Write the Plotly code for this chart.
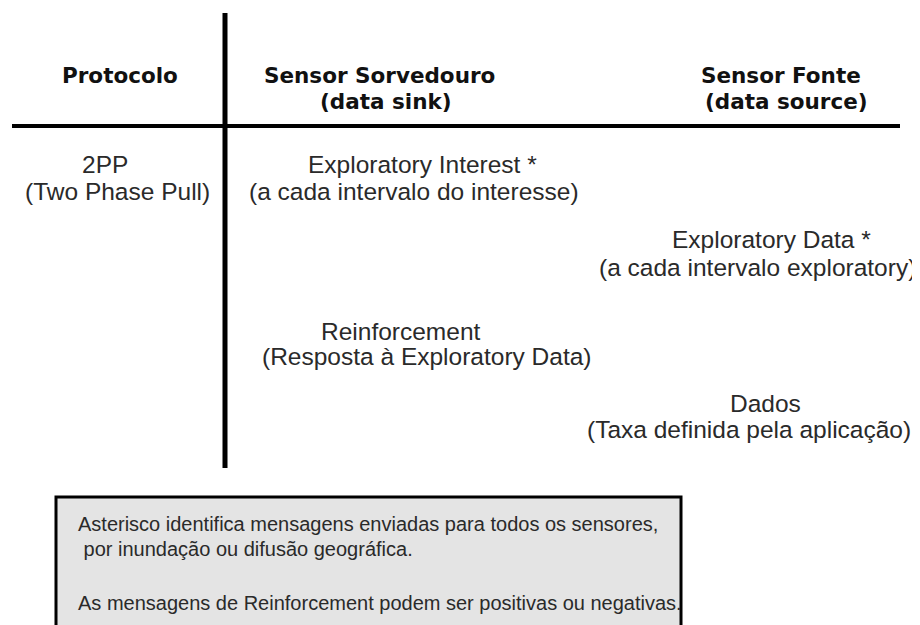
import plotly.graph_objects as go

# ---- content (text) ----
header_labels = ["Protocolo", "Sensor Sorvedouro", "(data sink)", "Sensor Fonte", "(data source)"]
message_labels = [
    "2PP", "(Two Phase Pull)",
    "Exploratory Interest *", "(a cada intervalo do interesse)",
    "Exploratory Data *", "(a cada intervalo exploratory)",
    "Reinforcement", "(Resposta à Exploratory Data)",
    "Dados", "(Taxa definida pela aplicação)",
]
note_lines = [
    "Asterisco identifica mensagens enviadas para todos os sensores,",
    " por inundação ou difusão geográfica.",
    "As mensagens de Reinforcement podem ser positivas ou negativas.",
]

# ---- layout positions (page pixels in a 920x625 window) ----
header_x = [120, 379, 386, 781, 786]
header_y = [75, 75, 101, 75, 101]
message_x = [105, 117, 422, 414, 771, 757, 401, 427, 765, 749]
message_y = [164, 191, 164, 191, 239, 267, 331, 356, 403, 429]
note_x = 76
note_y = [524, 549, 603]

W, H = 920, 625
OFF = 8  # default page body margin
fig = go.Figure()
fig.add_trace(go.Scatter(x=[OFF, W], y=[OFF, H], mode="markers",
                         marker=dict(opacity=0), hoverinfo="skip", showlegend=False))

body_font = dict(family="Liberation Sans, Arial, sans-serif", size=24.5, color="#2a2a2a")
head_font = dict(family="DejaVu Sans, Verdana, sans-serif", size=21.5, color="#111111")
note_font = dict(family="Liberation Sans, Arial, sans-serif", size=20, color="#2a2a2a")

annotations = []
for t, x, y in zip(header_labels, header_x, header_y):
    annotations.append(dict(x=x, y=y, xref="x", yref="y", text="<b>%s</b>" % t,
                            showarrow=False, xanchor="center", yanchor="middle",
                            font=head_font))
for t, x, y in zip(message_labels, message_x, message_y):
    annotations.append(dict(x=x, y=y, xref="x", yref="y", text=t,
                            showarrow=False, xanchor="center", yanchor="middle",
                            font=body_font))
for t, y in zip(note_lines, note_y):
    txt = ("&nbsp;" + t[1:]) if t.startswith(" ") else t
    annotations.append(dict(x=note_x, y=y, xref="x", yref="y", text=txt,
                            showarrow=False, xanchor="left", yanchor="middle",
                            font=note_font))

shapes = [
    dict(type="rect", xref="x", yref="y", x0=56, y0=497, x1=681, y1=640,
         fillcolor="#e4e4e4", line=dict(color="#000000", width=3), layer="below"),
    dict(type="line", xref="x", yref="y", x0=12, y0=126, x1=900, y1=126,
         line=dict(color="#000000", width=4)),
    dict(type="line", xref="x", yref="y", x0=225, y0=13, x1=225, y1=468,
         line=dict(color="#000000", width=5)),
]

fig.update_layout(
    width=W - OFF, height=H - OFF,
    margin=dict(l=0, r=0, t=0, b=0),
    paper_bgcolor="white", plot_bgcolor="white",
    xaxis=dict(range=[OFF, W], visible=False, fixedrange=True),
    yaxis=dict(range=[H, OFF], visible=False, fixedrange=True),
    annotations=annotations, shapes=shapes, showlegend=False,
)
fig.write_html("out.html")
